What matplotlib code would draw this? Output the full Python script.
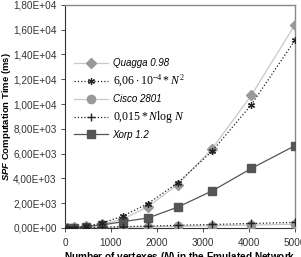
import matplotlib
matplotlib.use("Agg")
import matplotlib.pyplot as plt
from matplotlib.ticker import FuncFormatter

plt.rcParams['font.family'] = ['Liberation Sans', 'DejaVu Sans']
plt.rcParams['mathtext.fontset'] = 'custom'
plt.rcParams['mathtext.rm'] = 'Liberation Serif'
plt.rcParams['mathtext.it'] = 'Liberation Serif:italic'
plt.rcParams['mathtext.bf'] = 'Liberation Sans:bold'
plt.rcParams['mathtext.bfit'] = 'Liberation Sans:italic:bold'

# vertex counts of the emulated networks
vertexes = [50, 200, 450, 800, 1250, 1800, 2450, 3200, 4050, 5000]

# SPF computation time (ms)
quagga = [20, 50, 120, 300, 700, 1700, 3500, 6400, 10700, 16400]
quad_fit = [2, 24, 123, 390, 950, 1960, 3640, 6200, 9940, 15150]
cisco = [5, 10, 20, 40, 60, 90, 130, 180, 230, 300]
nlogn_fit = [3, 12, 30, 60, 100, 150, 210, 280, 360, 450]
xorp = [10, 30, 100, 240, 500, 800, 1680, 2990, 4800, 6640]

fig = plt.figure(figsize=(3.01, 2.57), dpi=100)
ax = fig.add_axes([0.216, 0.113, 0.764, 0.868])

ax.plot(vertexes, quagga, color='#c8c8c8', linewidth=0.9, marker='D',
        markersize=5, markerfacecolor='#999999', markeredgecolor='#999999',
        label='Quagga 0.98', zorder=3)
ax.plot(vertexes, quad_fit, color='#222222', linestyle=':', linewidth=0.9,
        marker=(6, 2, 0), markersize=5, markeredgecolor='#222222', markeredgewidth=0.9,
        label=r'$6{,}06 \cdot 10^{-4} * N^{\,2}$', zorder=4)
ax.plot(vertexes, cisco, color='#c8c8c8', linewidth=0.9, marker='o',
        markersize=6, markerfacecolor='#999999', markeredgecolor='#999999',
        label='Cisco 2801', zorder=3)
ax.plot(vertexes, nlogn_fit, color='#222222', linestyle=':', linewidth=0.9,
        marker='+', markersize=6, markeredgecolor='#222222', markeredgewidth=1.0,
        label=r'$0{,}015 * N\log\,N$', zorder=4)
ax.plot(vertexes, xorp, color='#555555', linewidth=0.9, marker='s',
        markersize=5.5, markerfacecolor='#555555', markeredgecolor='#555555',
        label='Xorp 1.2', zorder=3)

ax.set_xlim(0, 5000)
ax.set_ylim(0, 18000)
ax.set_xticks([0, 1000, 2000, 3000, 4000, 5000])
ax.set_yticks(range(0, 18001, 2000))
ax.yaxis.set_major_formatter(FuncFormatter(lambda v, p: f"{v:.2E}".replace('.', ',')))
ax.tick_params(labelsize=7.2, length=3, width=0.6, colors='#333333', pad=3)
ax.tick_params(axis='x', pad=4)

for side in ['left', 'bottom']:
    ax.spines[side].set_color('#333333')
    ax.spines[side].set_linewidth(0.8)
for side in ['top', 'right']:
    ax.spines[side].set_color('#888888')
    ax.spines[side].set_linewidth(1.0)

ax.set_ylabel(r'$\mathbfit{SPF}$ Computation Time (ms)', fontsize=6.8,
              fontweight='bold')
ax.yaxis.set_label_coords(-0.228, 0.5)
ax.set_xlabel(r'Number of vertexes ($\mathbfit{N}$) in the Emulated Network',
              fontsize=7.2, fontweight='bold', labelpad=2)

leg = ax.legend(loc='upper left', bbox_to_anchor=(0.0, 0.80), frameon=False,
                handlelength=3.5, labelspacing=0.5, handletextpad=0.5,
                prop={'size': 7, 'style': 'italic'})
for t in leg.get_texts()[1::2]:
    t.set_fontsize(8.5)

fig.savefig("out.png", dpi=100)
